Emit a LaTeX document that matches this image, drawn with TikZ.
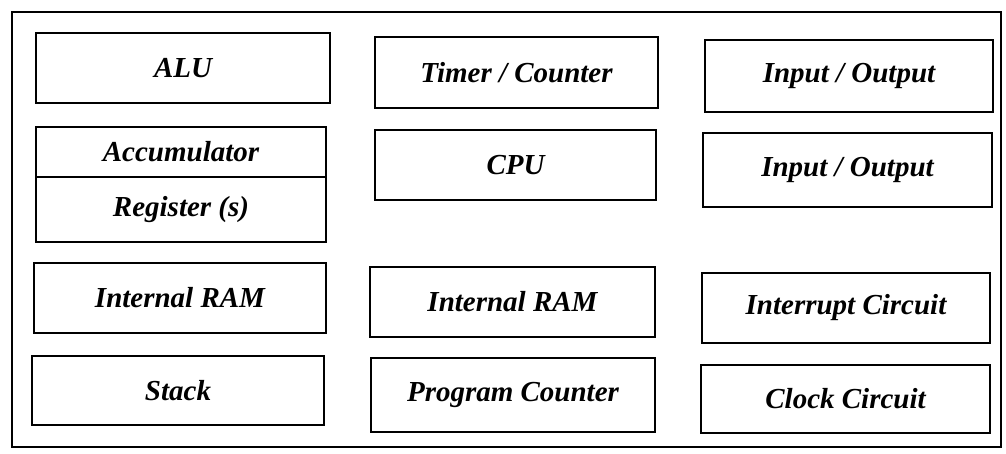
\documentclass[tikz,border=0pt]{standalone}
\usepackage{fontspec}
\setmainfont{Liberation Serif}
\begin{document}
\begin{tikzpicture}[x=1pt,y=-1pt,
  unit/.style={draw=black, line width=1.3pt, inner sep=0pt, font=\fontsize{29}{31}\selectfont\bfseries\itshape},
  frame/.style={draw=black, line width=1.3pt}]
\useasboundingbox (0,0) rectangle (1006,454);
\draw[frame] (12,12) rectangle (1001,447);
% column 1
\node[unit, minimum width=294, minimum height=70] (alu) at (183,68) {ALU};
\node[unit, minimum width=290, minimum height=50] (acc) at (181,152) {\raisebox{-7pt}{Accumulator}};
\node[unit, minimum width=290, minimum height=65] (reg) at (181,209.5) {Register (s)};
\node[unit, minimum width=292, minimum height=70] (ram1) at (180,298) {Internal RAM};
\node[unit, minimum width=292, minimum height=69] (stack) at (178,390.5) {Stack};
% column 2
\node[unit, minimum width=283, minimum height=71] (timer) at (516.5,72.5) {Timer / Counter};
\node[unit, minimum width=281, minimum height=70] (cpu) at (515.5,165) {CPU};
\node[unit, minimum width=285, minimum height=70] (ram2) at (512.5,302) {Internal RAM};
\node[unit, minimum width=284, minimum height=74] (pc) at (513,395) {Program Counter};
% column 3
\node[unit, minimum width=288, minimum height=72] (io1) at (849,76) {Input / Output};
\node[unit, minimum width=289, minimum height=74] (io2) at (847.5,170) {Input / Output};
\node[unit, minimum width=288, minimum height=70] (intr) at (846,308) {Interrupt Circuit};
\node[unit, minimum width=289, minimum height=68] (clk) at (845.5,399) {Clock Circuit};
\end{tikzpicture}
\end{document}
